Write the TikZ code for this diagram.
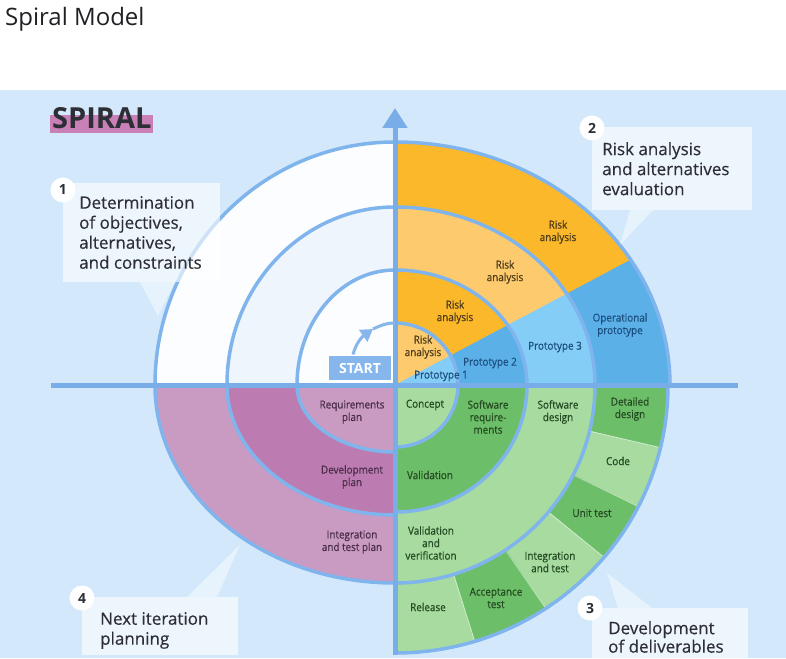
\documentclass[tikz,border=0pt]{standalone}
\usepackage{fontspec}
\setmainfont{Open Sans}
\newfontfamily\lblfont[FakeStretch=0.9,FakeBold=0.5]{Open Sans}
\newfontfamily\callfont[FakeBold=0.4]{Open Sans}
\usepackage{xcolor}
\usepackage{tikz}
\usetikzlibrary{arrows.meta,calc,positioning}

\definecolor{panelblue}{HTML}{D3E9FB}
\definecolor{axisblue}{HTML}{78ADE8}
\definecolor{ringblue}{HTML}{80B4EC}
\definecolor{orngdark}{HTML}{FBB82B}
\definecolor{orngpale}{HTML}{FDCB6E}
\definecolor{protodark}{HTML}{5BB0E8}
\definecolor{protopale}{HTML}{84CDF7}
\definecolor{grndark}{HTML}{6DBE69}
\definecolor{grnpale}{HTML}{A7DBA0}
\definecolor{pinkpale}{HTML}{C99BC2}
\definecolor{pinkdark}{HTML}{BC7CB2}
\definecolor{planwhite}{HTML}{FBFDFF}
\definecolor{plantint}{HTML}{EEF5FD}
\definecolor{startblue}{HTML}{86B6EC}
\definecolor{spiralpink}{HTML}{C880B7}
\definecolor{inkdark}{HTML}{2E2E36}
\definecolor{titlegray}{HTML}{202124}
\definecolor{orngink}{HTML}{4A3A1A}
\definecolor{protoink}{HTML}{1C4F80}
\definecolor{grnink}{HTML}{244A22}
\definecolor{pinkink}{HTML}{4B2D4A}

% quarter sector from the centre: colour, start angle, x radius, y radius
\newcommand{\qfill}[4]{\fill[#1] (0,0) -- (#2:#3pt and #4pt) arc[start angle=#2,delta angle=90,x radius=#3pt,y radius=#4pt] -- cycle;}

\begin{document}
\begin{tikzpicture}[x=1pt,y=1pt,
  ringline/.style={draw=ringblue,line width=3.5pt},
  axisline/.style={draw=axisblue,line width=5pt},
  startline/.style={draw=startblue,line width=3pt},
  segline/.style={draw=white,draw opacity=0.45,line width=0.8pt},
  lbl/.style={font=\lblfont\fontsize{11}{12.5}\selectfont,align=center,inner sep=0pt},
  orlbl/.style={lbl,text=orngink},
  prlbl/.style={lbl,text=protoink},
  grlbl/.style={lbl,text=grnink},
  pklbl/.style={lbl,text=pinkink},
  callbox/.style={fill=white,fill opacity=0.62},
  calltip/.style={fill=white,fill opacity=0.45},
  calltext/.style={font=\callfont\fontsize{17}{20}\selectfont,text=inkdark,align=left,anchor=north west,inner sep=0pt},
  badge/.style={circle,fill=white,minimum size=25pt,inner sep=0pt,font=\bfseries\fontsize{14}{16}\selectfont,text=inkdark},
  startbox/.style={fill=startblue,draw=white,line width=2pt,minimum width=64pt,minimum height=26pt,inner sep=0pt,text=white,font=\bfseries\fontsize{14}{16}\selectfont}]
\useasboundingbox (-395,-273) rectangle (391,385);
\fill[white] (-395,-273) rectangle (391,385);
\fill[panelblue] (-395,-273) rectangle (391,295);

% page title and heading
\node[anchor=base west,inner sep=0pt,text=titlegray,font=\fontsize{24}{28}\selectfont] (title) at (-390,359) {Spiral Model};
\fill[spiralpink] (-345,252) rectangle (-242,270);
\node[anchor=base west,inner sep=0pt,text=inkdark,font=\bfseries\fontsize{29}{32}\selectfont] (heading) at (-343,256) {SPIRAL};

% quadrant 2: risk analysis and prototypes
\foreach \rx/\ry/\ca/\cb in {275/243/orngdark/protodark,200/178/orngpale/protopale,132/115/orngdark/protodark,63/62/orngpale/protopale}{
  \qfill{\ca}{0}{\rx}{\ry}
  \begin{scope}
    \clip (0,0) -- (0:400pt) -- (28:400pt) -- cycle;
    \qfill{\cb}{0}{\rx}{\ry}
  \end{scope}
}
% quadrant 3: deliverables
\foreach \a/\b/\c in {0/-13.5/grndark,-13.5/-27/grnpale,-27/-40/grndark,-40/-56.5/grnpale,-56.5/-73/grndark,-73/-90/grnpale}
  \fill[\c] (0,0) -- (\a:273pt and 268pt) arc[start angle=\a,end angle=\b,x radius=273pt,y radius=268pt] -- cycle;
\foreach \a in {-13.5,-27,-40,-56.5,-73}
  \draw[segline] (\a:201pt and 199pt) -- (\a:272pt and 267pt);
\qfill{grnpale}{-90}{200}{198}
\qfill{grndark}{-90}{132}{127}
\qfill{grnpale}{-90}{63}{62}
% quadrant 4: planning
\qfill{pinkpale}{180}{240}{198}
\qfill{pinkdark}{180}{168}{130}
\qfill{pinkpale}{180}{98}{67}
% quadrant 1: objectives
\qfill{planwhite}{90}{240}{243}
\qfill{plantint}{90}{168}{178}
\qfill{planwhite}{90}{98}{115}

% spiral turns
\foreach \s/\rx/\ry in {0/63/62,0/132/115,0/200/178,0/275/243,
    -90/63/62,-90/132/127,-90/200/198,-90/273/268,
    180/98/67,180/168/130,180/240/198,
    90/98/115,90/168/178,90/240/243}
  \draw[ringline] (\s:\rx pt and \ry pt) arc[start angle=\s,delta angle=90,x radius=\rx pt,y radius=\ry pt];

% axes
\coordinate (west) at (-344,0);
\coordinate (east) at (343,0);
\coordinate (south) at (0,-270);
\coordinate (north) at (0,277);
\draw[axisline] (west) -- (east);
\draw[axisline,-{Triangle[width=24pt,length=20pt]}] (south) -- (north);

% labels, quadrant 2
\node[orlbl] (risk1) at (28,38) {Risk\\analysis};
\node[prlbl] (proto1) at (46,9) {Prototype 1};
\node[orlbl] (risk2) at (60,73) {Risk\\analysis};
\node[prlbl] (proto2) at (95,22) {Prototype 2};
\node[orlbl] (risk3) at (110,113) {Risk\\analysis};
\node[prlbl] (proto3) at (160,38) {Prototype 3};
\node[orlbl] (risk4) at (163,153) {Risk\\analysis};
\node[prlbl] (opproto) at (225,60) {Operational\\prototype};
% labels, quadrant 3
\node[grlbl] (concept) at (30,-20) {Concept};
\node[grlbl] (swreq) at (93,-32) {Software\\require-\\ments};
\node[grlbl] (swdesign) at (163,-27) {Software\\design};
\node[grlbl] (detdesign) at (235,-24) {Detailed\\design};
\node[grlbl] (valid) at (35,-90) {Validation};
\node[grlbl] (code) at (223,-76) {Code};
\node[grlbl] (unittest) at (197,-128) {Unit test};
\node[grlbl] (validver) at (36,-158) {Validation\\and\\verification};
\node[grlbl] (inttest) at (155,-177) {Integration\\and test};
\node[grlbl] (acctest) at (101,-213) {Acceptance\\test};
\node[grlbl] (release) at (33,-222) {Release};
% labels, quadrant 4
\node[pklbl] (reqplan) at (-43,-27) {Requirements\\plan};
\node[pklbl] (devplan) at (-43,-92) {Development\\plan};
\node[pklbl] (itplan) at (-43,-157) {Integration\\and test plan};

% start
\node[startbox] (start) at (-35,16.5) {START};
\coordinate (s0) at ([xshift=-7pt]start.north);
\coordinate (s1) at (-22,56);
\coordinate (s2) at (0,62);
\draw[startline,-{Triangle[width=14pt,length=12pt]}] (s0) to[out=75,in=215] (s1);
\draw[startline] (s1) to[out=25,in=180] (s2);

% callouts
\fill[callbox] (-332,202) rectangle (-175,103);
\fill[calltip] (-255,103) -- (-220,103) -- (-237,69) -- cycle;
\node[badge] (n1) at (-332,195) {1};
\node[calltext] (c1) at (-316,189) {Determination\\of objectives,\\alternatives,\\and constraints};

\fill[callbox] (197,258) rectangle (357,175);
\fill[calltip] (235,175) -- (258,175) -- (225,140) -- cycle;
\node[badge] (n2) at (197,257) {2};
\node[calltext] (c2) at (207,243) {Risk analysis\\and alternatives\\evaluation};

\fill[callbox] (197,-223) rectangle (353,-273);
\fill[calltip] (223,-223) -- (257,-223) -- (212,-188) -- cycle;
\node[badge] (n3) at (195,-223) {3};
\node[calltext,font=\callfont\fontsize{17}{18.5}\selectfont] (c3) at (213,-236) {Development\\of deliverables};

\fill[callbox] (-313,-212) rectangle (-157,-270);
\fill[calltip] (-208,-212) -- (-178,-212) -- (-155,-160) -- cycle;
\node[badge] (n4) at (-313,-213) {4};
\node[calltext] (c4) at (-295,-227) {Next iteration\\planning};
\end{tikzpicture}
\end{document}
